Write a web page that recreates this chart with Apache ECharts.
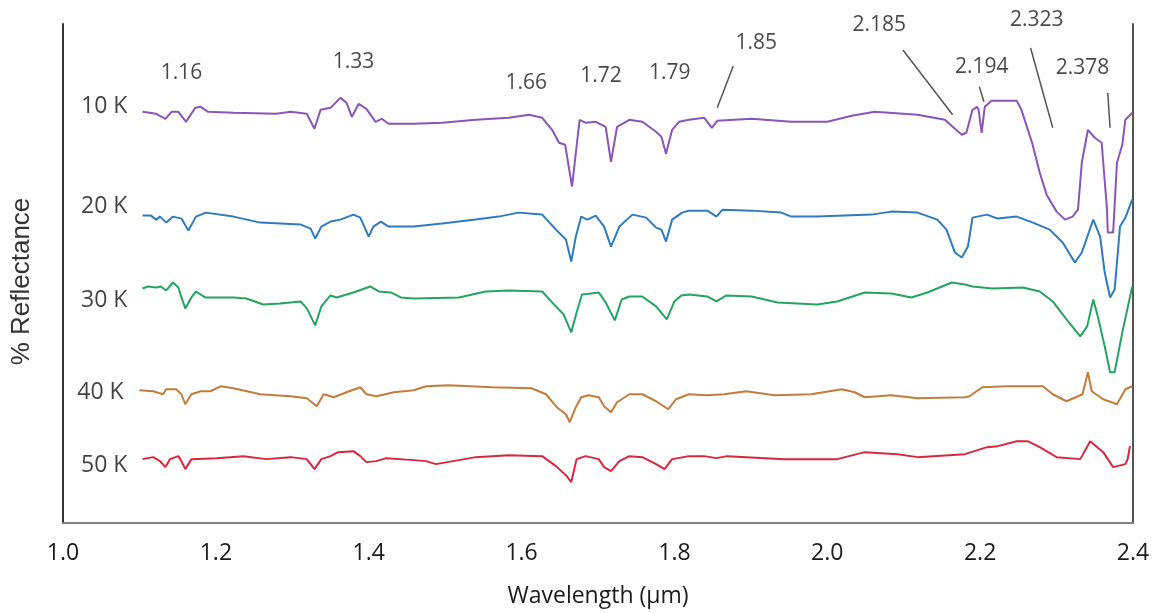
<!DOCTYPE html>
<html>
<head>
<meta charset="utf-8">
<script src="https://cdn.jsdelivr.net/npm/echarts@6/dist/echarts.min.js"></script>
<style>html,body{margin:0;padding:0;background:#fff;}#chart{width:1154px;height:613px;}</style>
</head>
<body>
<div id="chart"></div>
<script>
// Offset reflectance spectra: [wavelength (µm), offset reflectance]
const spec10K = [[1.104,82.4],[1.122,82.0],[1.134,81.0],[1.142,82.4],[1.151,82.4],[1.161,80.4],[1.173,83.2],[1.180,83.4],[1.190,82.4],[1.223,82.2],[1.279,82.0],[1.298,82.4],[1.319,82.0],[1.329,79.0],[1.337,82.8],[1.350,83.2],[1.363,85.2],[1.371,84.2],[1.378,81.4],[1.387,84.0],[1.397,83.0],[1.409,80.4],[1.417,81.0],[1.426,80.0],[1.459,80.0],[1.496,80.2],[1.540,80.8],[1.583,81.2],[1.610,81.8],[1.627,81.2],[1.640,78.8],[1.649,76.2],[1.657,75.8],[1.666,67.4],[1.671,74.2],[1.676,80.8],[1.684,80.2],[1.697,80.4],[1.710,79.4],[1.717,72.4],[1.725,79.4],[1.741,80.8],[1.758,80.4],[1.776,78.4],[1.783,77.4],[1.789,74.0],[1.797,78.8],[1.806,80.4],[1.819,80.8],[1.839,81.2],[1.849,79.2],[1.856,80.6],[1.901,81.0],[1.953,80.4],[2.000,80.4],[2.032,81.6],[2.062,82.4],[2.118,81.8],[2.154,80.8],[2.164,79.4],[2.176,77.8],[2.182,78.2],[2.190,82.8],[2.196,83.4],[2.198,82.8],[2.202,78.2],[2.206,83.4],[2.215,84.6],[2.248,84.6],[2.254,82.8],[2.268,76.2],[2.278,70.2],[2.287,65.8],[2.300,62.4],[2.311,60.8],[2.321,61.4],[2.328,62.8],[2.333,72.2],[2.341,78.8],[2.350,77.2],[2.359,76.2],[2.366,62.8],[2.367,58.2],[2.374,58.2],[2.379,72.2],[2.386,75.8],[2.390,80.8],[2.399,82.2]];
const spec20K = [[1.104,61.6],[1.115,61.6],[1.122,60.8],[1.127,61.4],[1.135,60.2],[1.144,61.4],[1.155,61.0],[1.164,58.6],[1.174,61.4],[1.187,62.2],[1.223,61.4],[1.258,60.2],[1.311,59.8],[1.324,59.0],[1.330,57.0],[1.338,59.4],[1.350,60.4],[1.363,60.8],[1.380,61.8],[1.389,61.2],[1.400,57.4],[1.406,59.4],[1.416,60.4],[1.426,59.4],[1.459,59.4],[1.496,60.0],[1.540,60.8],[1.570,61.4],[1.596,62.2],[1.627,61.8],[1.645,58.8],[1.658,56.8],[1.665,52.4],[1.671,57.4],[1.678,61.4],[1.686,60.8],[1.697,61.6],[1.708,59.4],[1.717,55.4],[1.728,59.4],[1.745,61.8],[1.763,61.2],[1.776,59.2],[1.783,58.8],[1.789,56.4],[1.797,60.8],[1.810,62.2],[1.819,62.6],[1.843,62.6],[1.855,61.4],[1.863,62.8],[1.901,62.6],[1.940,62.2],[1.953,61.4],[1.987,61.4],[2.058,61.8],[2.084,62.4],[2.118,62.2],[2.144,60.8],[2.156,58.8],[2.167,54.2],[2.176,53.2],[2.184,55.4],[2.190,61.2],[2.209,61.8],[2.223,61.0],[2.248,61.4],[2.269,60.2],[2.291,58.8],[2.308,56.2],[2.324,52.2],[2.333,54.2],[2.348,60.8],[2.357,57.4],[2.363,50.2],[2.370,45.2],[2.376,46.8],[2.383,59.4],[2.390,61.2],[2.399,64.8]];
const spec30K = [[1.104,47.0],[1.111,47.4],[1.122,47.2],[1.128,47.4],[1.135,46.6],[1.144,48.2],[1.151,47.2],[1.155,45.2],[1.160,43.0],[1.168,45.2],[1.174,46.4],[1.186,45.2],[1.223,45.2],[1.240,45.0],[1.262,43.8],[1.284,44.0],[1.311,44.4],[1.319,43.0],[1.330,39.6],[1.338,43.4],[1.350,45.6],[1.358,45.2],[1.380,46.2],[1.402,47.4],[1.413,46.4],[1.429,46.2],[1.442,45.2],[1.459,45.0],[1.518,45.2],[1.553,46.4],[1.583,46.6],[1.627,46.4],[1.640,44.2],[1.655,41.8],[1.665,38.2],[1.672,42.2],[1.679,45.8],[1.691,46.0],[1.701,46.2],[1.710,44.2],[1.722,40.6],[1.731,44.8],[1.741,45.4],[1.758,45.4],[1.776,43.4],[1.790,40.8],[1.800,44.4],[1.809,45.6],[1.819,45.8],[1.843,45.4],[1.855,44.4],[1.868,45.6],[1.901,45.4],[1.935,44.2],[1.987,43.8],[2.013,44.4],[2.049,46.2],[2.084,46.0],[2.110,45.2],[2.131,46.2],[2.163,48.2],[2.180,47.8],[2.190,47.4],[2.216,47.0],[2.256,47.2],[2.278,46.4],[2.295,44.4],[2.313,40.8],[2.331,37.4],[2.340,39.4],[2.348,44.8],[2.354,41.4],[2.363,35.4],[2.370,30.2],[2.376,30.2],[2.386,38.2],[2.399,47.4]];
const spec40K = [[1.100,26.6],[1.118,26.4],[1.131,25.8],[1.135,26.8],[1.148,26.8],[1.155,25.8],[1.160,23.8],[1.168,25.8],[1.180,26.4],[1.193,26.4],[1.206,27.4],[1.223,27.0],[1.258,25.8],[1.298,25.4],[1.319,25.0],[1.332,23.4],[1.341,25.8],[1.354,25.2],[1.371,26.2],[1.389,27.2],[1.397,25.8],[1.410,25.4],[1.433,26.2],[1.459,26.6],[1.475,27.4],[1.505,27.6],[1.561,27.2],[1.613,27.0],[1.632,25.8],[1.646,23.2],[1.658,21.8],[1.663,20.2],[1.671,23.2],[1.678,25.2],[1.688,25.6],[1.701,25.2],[1.708,23.4],[1.717,22.2],[1.725,24.2],[1.741,25.8],[1.758,25.8],[1.776,24.4],[1.792,22.8],[1.802,24.8],[1.819,25.8],[1.843,25.6],[1.865,25.8],[1.894,26.4],[1.931,25.6],[1.979,25.8],[2.019,26.8],[2.036,26.2],[2.049,25.2],[2.084,25.6],[2.118,25.0],[2.180,25.2],[2.186,25.4],[2.203,27.2],[2.235,27.4],[2.256,27.4],[2.282,27.4],[2.295,25.8],[2.313,24.4],[2.334,25.8],[2.341,30.2],[2.346,26.4],[2.361,24.8],[2.379,23.8],[2.390,26.8],[2.399,27.4]];
const spec50K = [[1.104,12.8],[1.118,13.2],[1.127,12.4],[1.134,11.2],[1.140,12.8],[1.151,13.4],[1.155,12.4],[1.160,10.8],[1.168,12.8],[1.201,13.0],[1.236,13.4],[1.266,12.8],[1.298,13.2],[1.319,12.8],[1.329,10.8],[1.338,12.8],[1.350,13.4],[1.360,14.2],[1.380,14.4],[1.389,13.4],[1.397,12.2],[1.410,12.4],[1.423,13.0],[1.459,12.6],[1.475,12.4],[1.488,11.8],[1.540,13.2],[1.583,13.6],[1.627,13.4],[1.645,11.4],[1.659,9.4],[1.665,8.2],[1.672,12.8],[1.684,13.4],[1.701,12.8],[1.708,11.2],[1.717,10.4],[1.728,12.4],[1.741,13.4],[1.758,13.2],[1.776,11.8],[1.787,10.8],[1.797,12.8],[1.819,13.4],[1.839,13.4],[1.855,13.0],[1.869,13.4],[1.944,12.8],[2.013,12.8],[2.049,14.2],[2.092,13.8],[2.118,13.2],[2.180,13.8],[2.209,15.2],[2.223,15.4],[2.248,16.4],[2.262,16.4],[2.278,15.2],[2.300,13.2],[2.331,12.8],[2.344,16.4],[2.361,14.2],[2.374,11.2],[2.390,11.8],[2.393,12.8],[2.396,15.4]];

const seriesNames = ['10 K', '20 K', '30 K', '40 K', '50 K'];
const seriesColors = ['#8b55b8', '#2f7bbf', '#25a461', '#c27d3c', '#d8283c'];
const seriesLabelPos = [[1.054, 83.4], [1.054, 63.4], [1.054, 44.6], [1.049, 26.2], [1.054, 11.6]];

const bandLabels = ['1.16', '1.33', '1.66', '1.72', '1.79', '1.85', '2.185', '2.194', '2.323', '2.378'];
const bandLabelPos = [[1.155, 90.2], [1.380, 92.4], [1.606, 88.2], [1.704, 89.6], [1.794, 90.2], [1.907, 96.2], [2.068, 99.8], [2.202, 91.4], [2.274, 100.8], [2.334, 91.2]];
const leaderLines = [
  [[1.877, 91.6], [1.856, 83.2]],
  [[2.099, 94.8], [2.164, 81.8]],
  [[2.199, 87.4], [2.205, 84.4]],
  [[2.266, 95.2], [2.295, 79.2]],
  [[2.367, 86.2], [2.370, 79.2]]
];
const xTicks = { min: 1.0, max: 2.4, step: 0.2 };

const spectra = [spec10K, spec20K, spec30K, spec40K, spec50K];
const chart = echarts.init(document.getElementById('chart'), null, { renderer: 'canvas' });

const series = [];
spectra.forEach((d, i) => {
  series.push({
    type: 'line', name: seriesNames[i], data: d, showSymbol: false, symbol: 'none',
    lineStyle: { color: seriesColors[i], width: 2 }, itemStyle: { color: seriesColors[i] },
    smooth: false, clip: false, z: 3
  });
});
leaderLines.forEach(seg => {
  series.push({
    type: 'line', data: seg, showSymbol: false, symbol: 'none', clip: false,
    lineStyle: { color: '#555', width: 1.5 }, silent: true, z: 2
  });
});
series.push({
  type: 'scatter', clip: false, symbolSize: 1, itemStyle: { color: 'rgba(0,0,0,0)' },
  data: bandLabels.map((t, i) => ({ name: t, value: bandLabelPos[i] })),
  label: { show: true, position: 'inside', formatter: p => p.name,
    fontFamily: 'Open Sans', fontSize: 21, color: '#1a1a1a' },
  silent: true, z: 5
});
series.push({
  type: 'scatter', clip: false, symbolSize: 1, itemStyle: { color: 'rgba(0,0,0,0)' },
  data: seriesNames.map((t, i) => ({ name: t, value: seriesLabelPos[i] })),
  label: { show: true, position: 'inside', formatter: p => p.name,
    fontFamily: 'Open Sans', fontSize: 23, color: '#111' },
  silent: true, z: 5
});

chart.setOption({
  animation: false,
  backgroundColor: '#fff',
  grid: { left: 63, right: 21, top: 24, bottom: 89, containLabel: false },
  xAxis: {
    type: 'value', min: xTicks.min, max: xTicks.max, interval: xTicks.step,
    name: 'Wavelength (µm)', nameLocation: 'middle', nameGap: 62,
    nameTextStyle: { fontFamily: 'Open Sans', fontSize: 23, color: '#1a1a1a' },
    axisLine: { show: true, onZero: false, lineStyle: { color: '#808080', width: 2 } },
    axisTick: { show: false },
    splitLine: { show: false },
    axisLabel: { fontFamily: 'Open Sans', fontSize: 23, color: '#1a1a1a', margin: 19,
      formatter: v => v.toFixed(1) }
  },
  yAxis: [{
    type: 'value', min: 0, max: 100, position: 'left',
    name: '% Reflectance', nameLocation: 'middle', nameGap: 28, nameRotate: 90,
    nameTextStyle: { fontFamily: 'Liberation Sans', fontSize: 26, color: '#333', padding: [0, 16, 0, 0] },
    axisLine: { show: true, onZero: false, lineStyle: { color: '#333', width: 2 } },
    axisTick: { show: false }, axisLabel: { show: false }, splitLine: { show: false }
  }, {
    type: 'value', min: 0, max: 100, position: 'right',
    axisLine: { show: true, onZero: false, lineStyle: { color: '#555', width: 2 } },
    axisTick: { show: false }, axisLabel: { show: false }, splitLine: { show: false }
  }],
  series: series
});
</script>
</body>
</html>
